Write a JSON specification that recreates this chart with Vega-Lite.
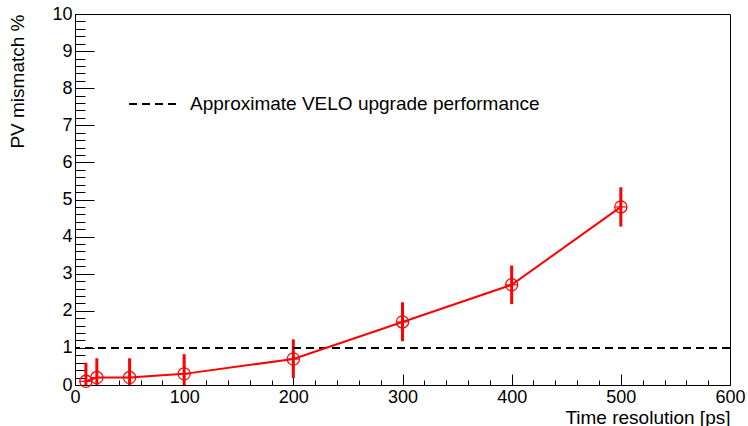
{
  "$schema": "https://vega.github.io/schema/vega-lite/v6.json",
  "width": 655,
  "height": 371,
  "autosize": {"type": "none"},
  "padding": {"left": 75, "top": 14, "right": 18, "bottom": 41},
  "background": "white",
  "config": {
    "font": "Liberation Sans",
    "view": {"stroke": "black", "strokeWidth": 1},
    "axis": {
      "domainColor": "black",
      "tickColor": "black",
      "labelColor": "black",
      "titleColor": "black",
      "labelFontSize": 18,
      "titleFontSize": 19,
      "titleFontWeight": "normal",
      "grid": false,
      "labelFont": "Liberation Sans",
      "titleFont": "Liberation Sans"
    }
  },
  "datasets": {
    "pts": [
      {"t": 10, "mis": 0.1, "lo": 0.0, "hi": 0.6},
      {"t": 20, "mis": 0.2, "lo": 0.0, "hi": 0.72},
      {"t": 50, "mis": 0.2, "lo": 0.0, "hi": 0.72},
      {"t": 100, "mis": 0.3, "lo": 0.0, "hi": 0.83},
      {"t": 200, "mis": 0.7, "lo": 0.19, "hi": 1.23},
      {"t": 300, "mis": 1.7, "lo": 1.18, "hi": 2.23},
      {"t": 400, "mis": 2.7, "lo": 2.18, "hi": 3.22},
      {"t": 500, "mis": 4.8, "lo": 4.27, "hi": 5.33}
    ],
    "ref": [
      {"level": 1, "series": "Approximate VELO upgrade performance"}
    ]
  },
  "encoding": {
    "x": {
      "field": "t",
      "type": "quantitative",
      "scale": {"domain": [0, 600], "nice": false},
      "axis": {
        "title": "Time resolution [ps]",
        "titleAnchor": "end",
        "titleAlign": "right",
        "titlePadding": -4,
        "values": [0,20,40,60,80,100,120,140,160,180,200,220,240,260,280,300,320,340,360,380,400,420,440,460,480,500,520,540,560,580,600],
        "labelExpr": "datum.value % 100 === 0 ? datum.label : ''",
        "tickSize": {"condition": {"test": "datum.value % 100 === 0", "value": -11}, "value": -5},
        "labelPadding": 14,
        "labelFlush": false,
        "labelOverlap": false,
        "labelBound": false
      }
    },
    "y": {
      "field": "mis",
      "type": "quantitative",
      "scale": {"domain": [0, 10], "nice": false},
      "axis": {
        "title": "PV mismatch %",
        "titleAnchor": "end",
        "titlePadding": 24,
        "values": [0,0.2,0.4,0.6,0.8,1,1.2,1.4,1.6,1.8,2,2.2,2.4,2.6,2.8,3,3.2,3.4,3.6,3.8,4,4.2,4.4,4.6,4.8,5,5.2,5.4,5.6,5.8,6,6.2,6.4,6.6,6.8,7,7.2,7.4,7.6,7.8,8,8.2,8.4,8.6,8.8,9,9.2,9.4,9.6,9.8,10],
        "labelExpr": "abs(datum.value - round(datum.value)) < 0.001 ? format(datum.value, 'd') : ''",
        "tickSize": {"condition": {"test": "abs(datum.value - round(datum.value)) < 0.001", "value": -19}, "value": -10},
        "labelPadding": 22,
        "labelFlush": false,
        "labelOverlap": false,
        "labelBound": false
      }
    }
  },
  "layer": [
    {
      "data": {"name": "pts"},
      "mark": {"type": "rule", "color": "#ff0000", "strokeWidth": 3, "clip": true},
      "encoding": {
        "y": {"field": "lo", "type": "quantitative"},
        "y2": {"field": "hi"}
      }
    },
    {
      "data": {"name": "ref"},
      "mark": {"type": "rule", "color": "black", "strokeWidth": 2},
      "encoding": {
        "x": null,
        "y": {"field": "level", "type": "quantitative"},
        "strokeDash": {
          "field": "series",
          "type": "nominal",
          "scale": {"range": [[8, 5]]},
          "legend": {
            "title": null,
            "orient": "none",
            "legendX": 53,
            "legendY": 63,
            "symbolType": "stroke",
            "symbolSize": 2700,
            "symbolStrokeWidth": 2,
            "symbolStrokeColor": "black",
            "labelFontSize": 19,
            "labelFont": "Liberation Sans",
            "labelColor": "black",
            "labelLimit": 600,
            "labelOffset": 8
          }
        }
      }
    },
    {
      "data": {"name": "pts"},
      "mark": {"type": "line", "color": "#ff0000", "strokeWidth": 2},
      "encoding": {}
    },
    {
      "data": {"name": "pts"},
      "mark": {"type": "point", "shape": "circle", "filled": false, "color": "#ff0000", "size": 150, "strokeWidth": 1.2, "opacity": 1},
      "encoding": {}
    },
    {
      "data": {"name": "pts"},
      "mark": {"type": "point", "shape": "M-1,0H1", "filled": false, "color": "#ff0000", "size": 150, "strokeWidth": 1.2, "opacity": 1},
      "encoding": {}
    }
  ]
}
